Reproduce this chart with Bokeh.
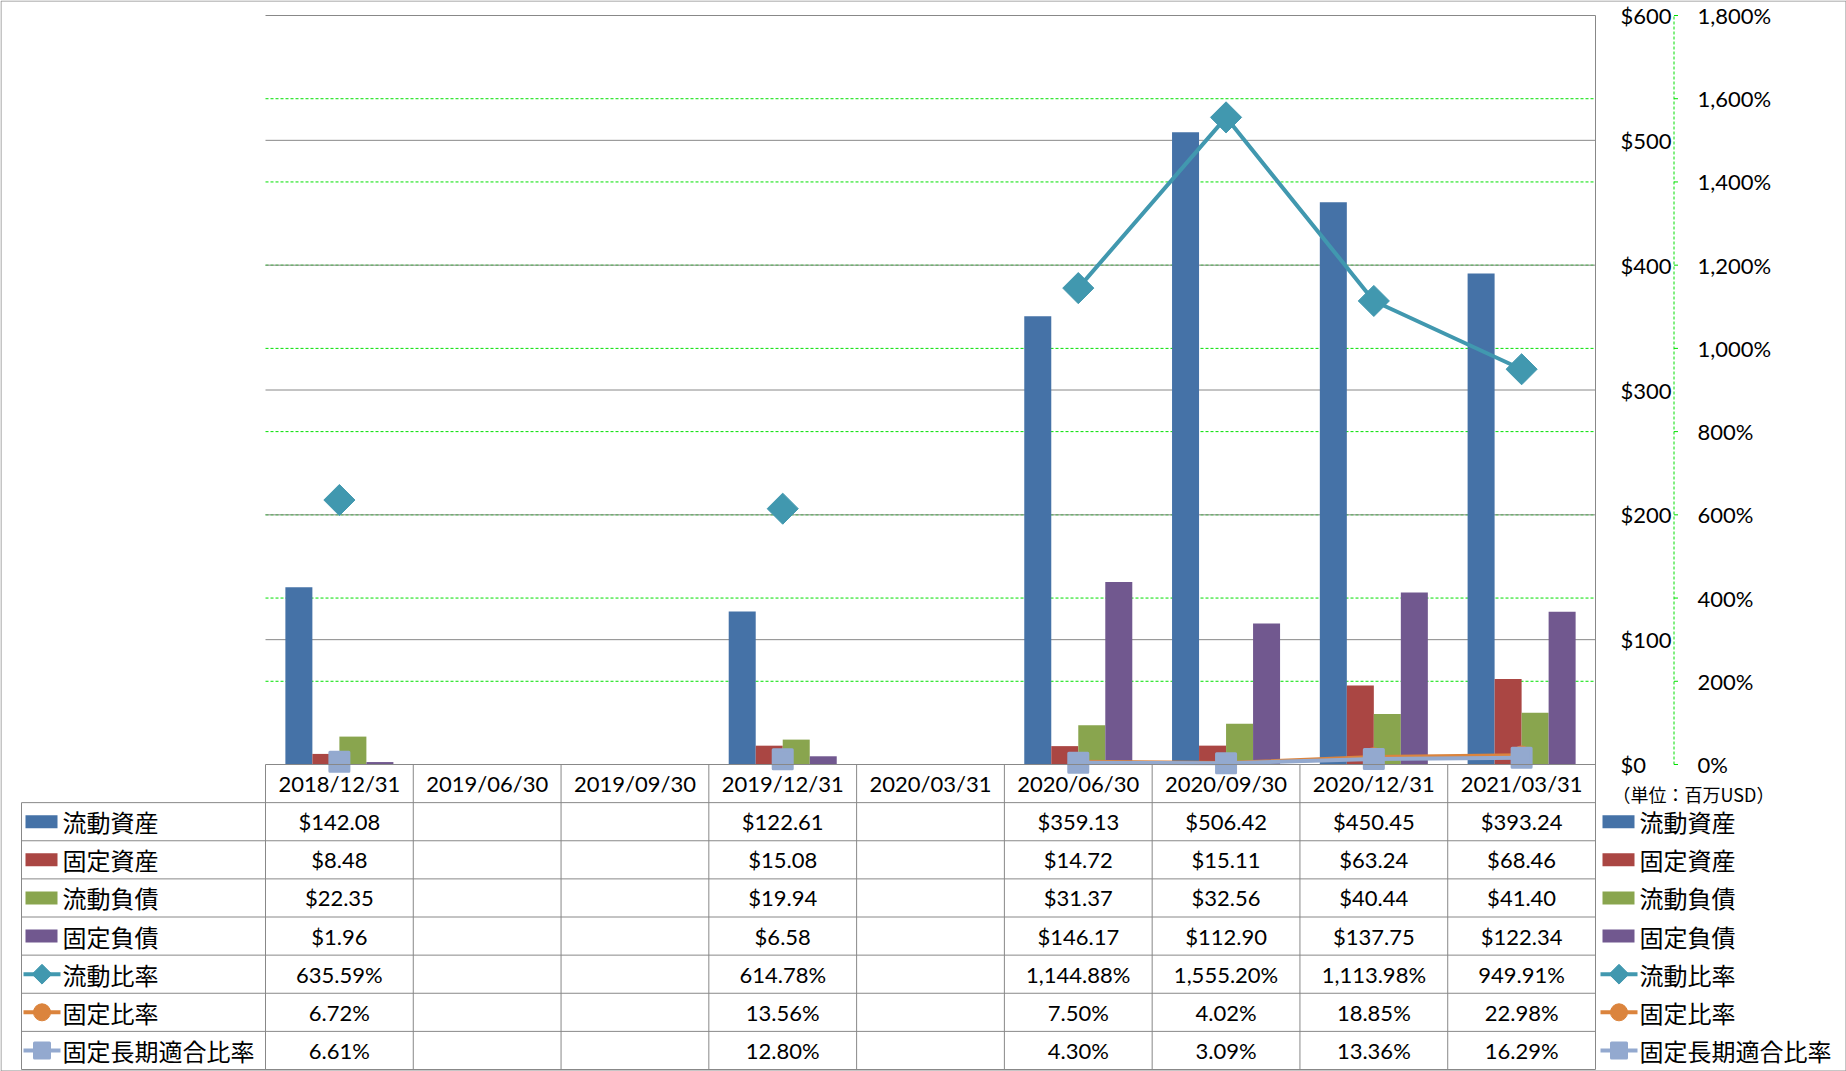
import math
from bokeh.plotting import figure
from bokeh.models import Range1d
from bokeh.core.properties import value
from bokeh.embed import file_html
from bokeh.resources import INLINE

# ---------------- data ----------------
dates = ["2018/12/31", "2019/06/30", "2019/09/30", "2019/12/31", "2020/03/31",
         "2020/06/30", "2020/09/30", "2020/12/31", "2021/03/31"]
current_assets = [142.08, None, None, 122.61, None, 359.13, 506.42, 450.45, 393.24]
fixed_assets = [8.48, None, None, 15.08, None, 14.72, 15.11, 63.24, 68.46]
current_liabilities = [22.35, None, None, 19.94, None, 31.37, 32.56, 40.44, 41.40]
fixed_liabilities = [1.96, None, None, 6.58, None, 146.17, 112.90, 137.75, 122.34]
current_ratio = [635.59, None, None, 614.78, None, 1144.88, 1555.20, 1113.98, 949.91]
fixed_ratio = [6.72, None, None, 13.56, None, 7.50, 4.02, 18.85, 22.98]
fixed_long_term_ratio = [6.61, None, None, 12.80, None, 4.30, 3.09, 13.36, 16.29]

bar_names = ["流動資産", "固定資産", "流動負債", "固定負債"]
ratio_names = ["流動比率", "固定比率", "固定長期適合比率"]
usd_ticks = [0, 100, 200, 300, 400, 500, 600]
usd_tick_labels = ["$0", "$100", "$200", "$300", "$400", "$500", "$600"]
pct_ticks = [0, 200, 400, 600, 800, 1000, 1200, 1400, 1600, 1800]
pct_tick_labels = ["0%", "200%", "400%", "600%", "800%", "1,000%", "1,200%", "1,400%", "1,600%", "1,800%"]
unit_text = "（単位：百万USD）"

bar_series = [current_assets, fixed_assets, current_liabilities, fixed_liabilities]
ratio_series = [current_ratio, fixed_ratio, fixed_long_term_ratio]

# ---------------- style ----------------
bar_colors = ["#4572A7", "#AA4643", "#89A54E", "#71588F"]
ratio_colors = ["#4198AF", "#DB843D", "#93A9CF"]
grid_gray = "#888888"
green = "#00E000"
NUM_FONT = "Lato"
CJK_FONT = "Noto Sans CJK JP"

# ---------------- layout (pixels) ----------------
W, H = 1846, 1071
CH_L, CH_R, CH_T, ZERO = 265, 1595, 15, 764   # chart area
TAB_L, TAB_B = 21, 1069
USD_LAB_X, PCT_AXIS_X, PCT_LAB_X = 1620, 1673.5, 1697
UNIT_X, UNIT_Y = 1612, 793

n = len(dates)
col_w = (CH_R - CH_L) / n
usd_max = usd_ticks[-1]
pct_max = pct_ticks[-1]
n_rows = 1 + len(bar_series) + len(ratio_series)
row_h = (TAB_B - ZERO) / n_rows
usd_px = (ZERO - CH_T) / usd_max
pct_px = (ZERO - CH_T) / pct_max


def px2x(px):
    return (px - CH_L) / col_w


def py2row(py):
    return (py - ZERO) / row_h


x_range = Range1d(px2x(0), px2x(W))
y_range = Range1d((ZERO - H) / usd_px, ZERO / usd_px)
pct_range = Range1d((ZERO - H) / pct_px, ZERO / pct_px)
rows_range = Range1d(py2row(H), py2row(0))

p = figure(width=W, height=H, x_range=x_range, y_range=y_range,
           output_backend="svg", toolbar_location=None,
           x_axis_location=None, y_axis_location=None,
           min_border_left=0, min_border_right=0, min_border_top=0, min_border_bottom=0)
p.extra_y_ranges = {"pct": pct_range, "rows": rows_range}
p.xgrid.visible = False
p.ygrid.visible = False
p.outline_line_color = None
p.background_fill_color = "white"
p.border_fill_color = "white"

# ---------------- outer border ----------------
bx0, bx1 = px2x(0.5), px2x(W - 0.5)
by0, by1 = py2row(0.5), py2row(H - 0.5)
p.segment(x0=[bx0, bx0, bx0, bx1], x1=[bx1, bx1, bx0, bx1],
          y0=[by0, by1, by0, by0], y1=[by0, by1, by1, by1], y_range_name="rows",
          line_color="#8C8C8C", line_width=1)

# ---------------- gridlines ----------------
p.segment(x0=0, x1=n, y0=pct_ticks[1:-1], y1=pct_ticks[1:-1], y_range_name="pct",
          line_color=green, line_width=1, line_dash="3 2")
p.segment(x0=0, x1=n, y0=usd_ticks[1:], y1=usd_ticks[1:],
          line_color=grid_gray, line_width=1)

# ---------------- value axes (right side) ----------------
p.text(x=[px2x(USD_LAB_X)] * len(usd_ticks), y=usd_ticks, text=usd_tick_labels,
       text_align="left", text_baseline="middle", text_font=value(NUM_FONT),
       text_font_size="22px", text_color="black")
ax_x = px2x(PCT_AXIS_X)
p.segment(x0=ax_x, x1=ax_x, y0=0, y1=pct_max, y_range_name="pct",
          line_color=green, line_width=1, line_dash="3 2")
p.segment(x0=ax_x, x1=px2x(PCT_AXIS_X + 4), y0=pct_ticks, y1=pct_ticks, y_range_name="pct",
          line_color=green, line_width=1)
p.text(x=[px2x(PCT_LAB_X)] * len(pct_ticks), y=pct_ticks, text=pct_tick_labels,
       y_range_name="pct", text_align="left", text_baseline="middle",
       text_font=value(NUM_FONT), text_font_size="22px", text_color="black")
p.text(x=[px2x(UNIT_X)], y=[py2row(UNIT_Y)], text=[unit_text], y_range_name="rows",
       text_align="left", text_baseline="middle", text_font=value(CJK_FONT),
       text_font_size="18px", text_color="black")

# ---------------- bars ----------------
group_frac = 0.731
bar_w = group_frac / len(bar_series)
for k, (vals, col) in enumerate(zip(bar_series, bar_colors)):
    off = (k - (len(bar_series) - 1) / 2) * bar_w
    xs = [i + 0.5 + off for i, v in enumerate(vals) if v is not None]
    tops = [v for v in vals if v is not None]
    p.vbar(x=xs, top=tops, bottom=0, width=bar_w, fill_color=col, line_color=None)

# ---------------- ratio lines ----------------
ratio_markers = [dict(marker="square", angle=math.pi / 4, size=22, line_width=1, leg_size=14),
                 dict(marker="circle", angle=0, size=18, line_width=1, leg_size=17),
                 dict(marker="square", angle=0, size=19, line_width=3, leg_size=15)]
ratio_line_w = [4, 3.5, 4]
for vals, col, mk, lw in zip(ratio_series, ratio_colors, ratio_markers, ratio_line_w):
    ys = [v if v is not None else float("nan") for v in vals]
    xs = [i + 0.5 for i in range(n)]
    p.line(x=xs, y=ys, y_range_name="pct", line_color=col, line_width=lw)
    mx = [i + 0.5 for i, v in enumerate(vals) if v is not None]
    my = [v for v in vals if v is not None]
    p.scatter(x=mx, y=my, y_range_name="pct", marker=mk["marker"], angle=mk["angle"],
              size=mk["size"], fill_color=col, line_color=col, line_width=mk["line_width"],
              line_join="round")

# ---------------- table ----------------
lab_x = px2x(TAB_L)
p.segment(x0=0, x1=n, y0=0, y1=0, y_range_name="rows", line_color=grid_gray, line_width=1)
hy = list(range(1, n_rows + 1))
p.segment(x0=lab_x, x1=n, y0=hy, y1=hy, y_range_name="rows", line_color=grid_gray, line_width=1)
vx = list(range(0, n))
p.segment(x0=vx, x1=vx, y0=0, y1=n_rows, y_range_name="rows", line_color=grid_gray, line_width=1)
p.segment(x0=lab_x, x1=lab_x, y0=1, y1=n_rows, y_range_name="rows", line_color=grid_gray, line_width=1)
p.segment(x0=n, x1=n, y0=py2row(CH_T), y1=n_rows, y_range_name="rows", line_color=grid_gray, line_width=1)

p.text(x=[i + 0.5 for i in range(n)], y=[0.5] * n, text=dates, y_range_name="rows",
       text_align="center", text_baseline="middle", text_font=value(NUM_FONT),
       text_font_size="22px", text_color="black")


def fmt_usd(v):
    return "${:,.2f}".format(v)


def fmt_pct(v):
    return "{:,.2f}%".format(v)


cell_x, cell_y, cell_t = [], [], []
for r, vals in enumerate(bar_series):
    for i, v in enumerate(vals):
        if v is not None:
            cell_x.append(i + 0.5); cell_y.append(r + 1.5); cell_t.append(fmt_usd(v))
for r, vals in enumerate(ratio_series):
    for i, v in enumerate(vals):
        if v is not None:
            cell_x.append(i + 0.5); cell_y.append(len(bar_series) + r + 1.5); cell_t.append(fmt_pct(v))
p.text(x=cell_x, y=cell_y, text=cell_t, y_range_name="rows",
       text_align="center", text_baseline="middle", text_font=value(NUM_FONT),
       text_font_size="22px", text_color="black")


# ---------------- legends (table column + right side) ----------------
def draw_legend(x_left):
    sw_l, sw_r = x_left + 2, x_left + 34
    gl_l, gl_r = x_left, x_left + 37
    txt_l = x_left + 39
    for k, col in enumerate(bar_colors):
        p.rect(x=px2x((sw_l + sw_r) / 2), y=k + 1.5, width=sw_r - sw_l, height=13,
               width_units="screen", height_units="screen", y_range_name="rows",
               fill_color=col, line_color=None)
    for k, (col, mk) in enumerate(zip(ratio_colors, ratio_markers)):
        ry = len(bar_colors) + k + 1.5
        p.segment(x0=px2x(gl_l), x1=px2x(gl_r), y0=ry, y1=ry, y_range_name="rows",
                  line_color=col, line_width=4)
        p.scatter(x=[px2x((gl_l + gl_r) / 2)], y=[ry], y_range_name="rows", marker=mk["marker"],
                  angle=mk["angle"], size=mk["leg_size"], fill_color=col, line_color=col,
                  line_width=mk["line_width"], line_join="round")
    names = bar_names + ratio_names
    p.text(x=[px2x(txt_l)] * len(names), y=[k + 1.5 for k in range(len(names))],
           text=names, y_range_name="rows", text_align="left", text_baseline="middle",
           text_font=value(CJK_FONT), text_font_size="24px", text_color="black")


draw_legend(23)
draw_legend(1600)

open("out.html", "w").write(file_html(p, INLINE))
